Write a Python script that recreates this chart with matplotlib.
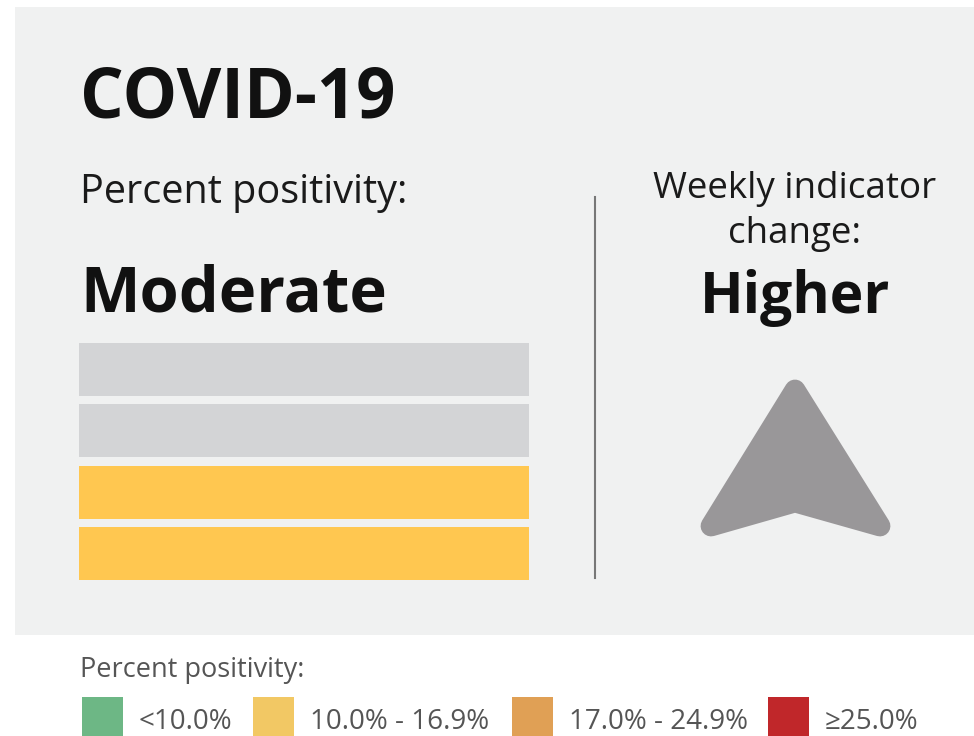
import numpy as np
import matplotlib.pyplot as plt
from matplotlib.patches import Rectangle, Polygon

plt.rcParams['font.family'] = ['Open Sans', 'DejaVu Sans']

# data
disease = 'COVID-19'
level_names = ['Low', 'Moderate', 'High', 'Very High']
current_level = 'Moderate'
trend = 'Higher'
legend_labels = ['<10.0%', '10.0% - 16.9%', '17.0% - 24.9%', '≥25.0%']
legend_colors = ['#6db785', '#f2c864', '#e0a055', '#c0272a']

n_filled = level_names.index(current_level) + 1
segments = np.arange(len(level_names))
seg_colors = ['#ffc750' if s < n_filled else '#d3d4d6' for s in segments]

W, H = 974, 736
fig = plt.figure(figsize=(W / 100, H / 100), dpi=100)
fig.patch.set_facecolor('white')

# overlay axes in pixel units (y down)
ax = fig.add_axes([0, 0, 1, 1])
ax.set_xlim(0, W)
ax.set_ylim(H, 0)
ax.axis('off')

ax.add_patch(Rectangle((15, 7), W - 15, 628, facecolor='#f0f1f1', edgecolor='none'))

ax.text(80, 117, disease, fontsize=49.5, fontweight='bold', color='#111111', va='baseline')
ax.text(80, 203, 'Percent positivity:', fontsize=28.5, color='#1a1a1a', va='baseline')
ax.text(80, 312, current_level, fontsize=45.5, fontweight='bold', color='#111111', va='baseline')

ax.plot([595, 595], [197, 578], color='#777777', lw=1.5)

ax.text(795, 198, 'Weekly indicator', fontsize=26.5, color='#1a1a1a', ha='center', va='baseline')
ax.text(795, 243, 'change:', fontsize=26.5, color='#1a1a1a', ha='center', va='baseline')
ax.text(795, 313, trend, fontsize=41, fontweight='bold', color='#111111', ha='center', va='baseline')

# trend arrow
arrow = Polygon([(795, 390), (711, 526), (795, 502), (880, 526)], closed=True,
                facecolor='#999799', edgecolor='#999799', lw=15, joinstyle='round')
ax.add_patch(arrow)

# legend
ax.text(80, 677, 'Percent positivity:', fontsize=19.5, color='#555555', va='baseline')
sw_x = [82, 253, 512, 768]
for x, lab, c in zip(sw_x, legend_labels, legend_colors):
    ax.add_patch(Rectangle((x, 697), 41, 45, facecolor=c, edgecolor='none'))
    ax.text(x + 57, 729, lab, fontsize=20, color='#555555', va='baseline')

# level bars (filled from the bottom up)
bx = fig.add_axes([79 / W, (H - 580) / H, 450 / W, 237 / H])
bx.barh(segments, np.ones(len(segments)), height=0.865, color=seg_colors, left=0)
bx.set_xlim(0, 1)
bx.set_ylim(-0.4325, 3.4325)
bx.axis('off')

fig.savefig('out.png', dpi=100)
